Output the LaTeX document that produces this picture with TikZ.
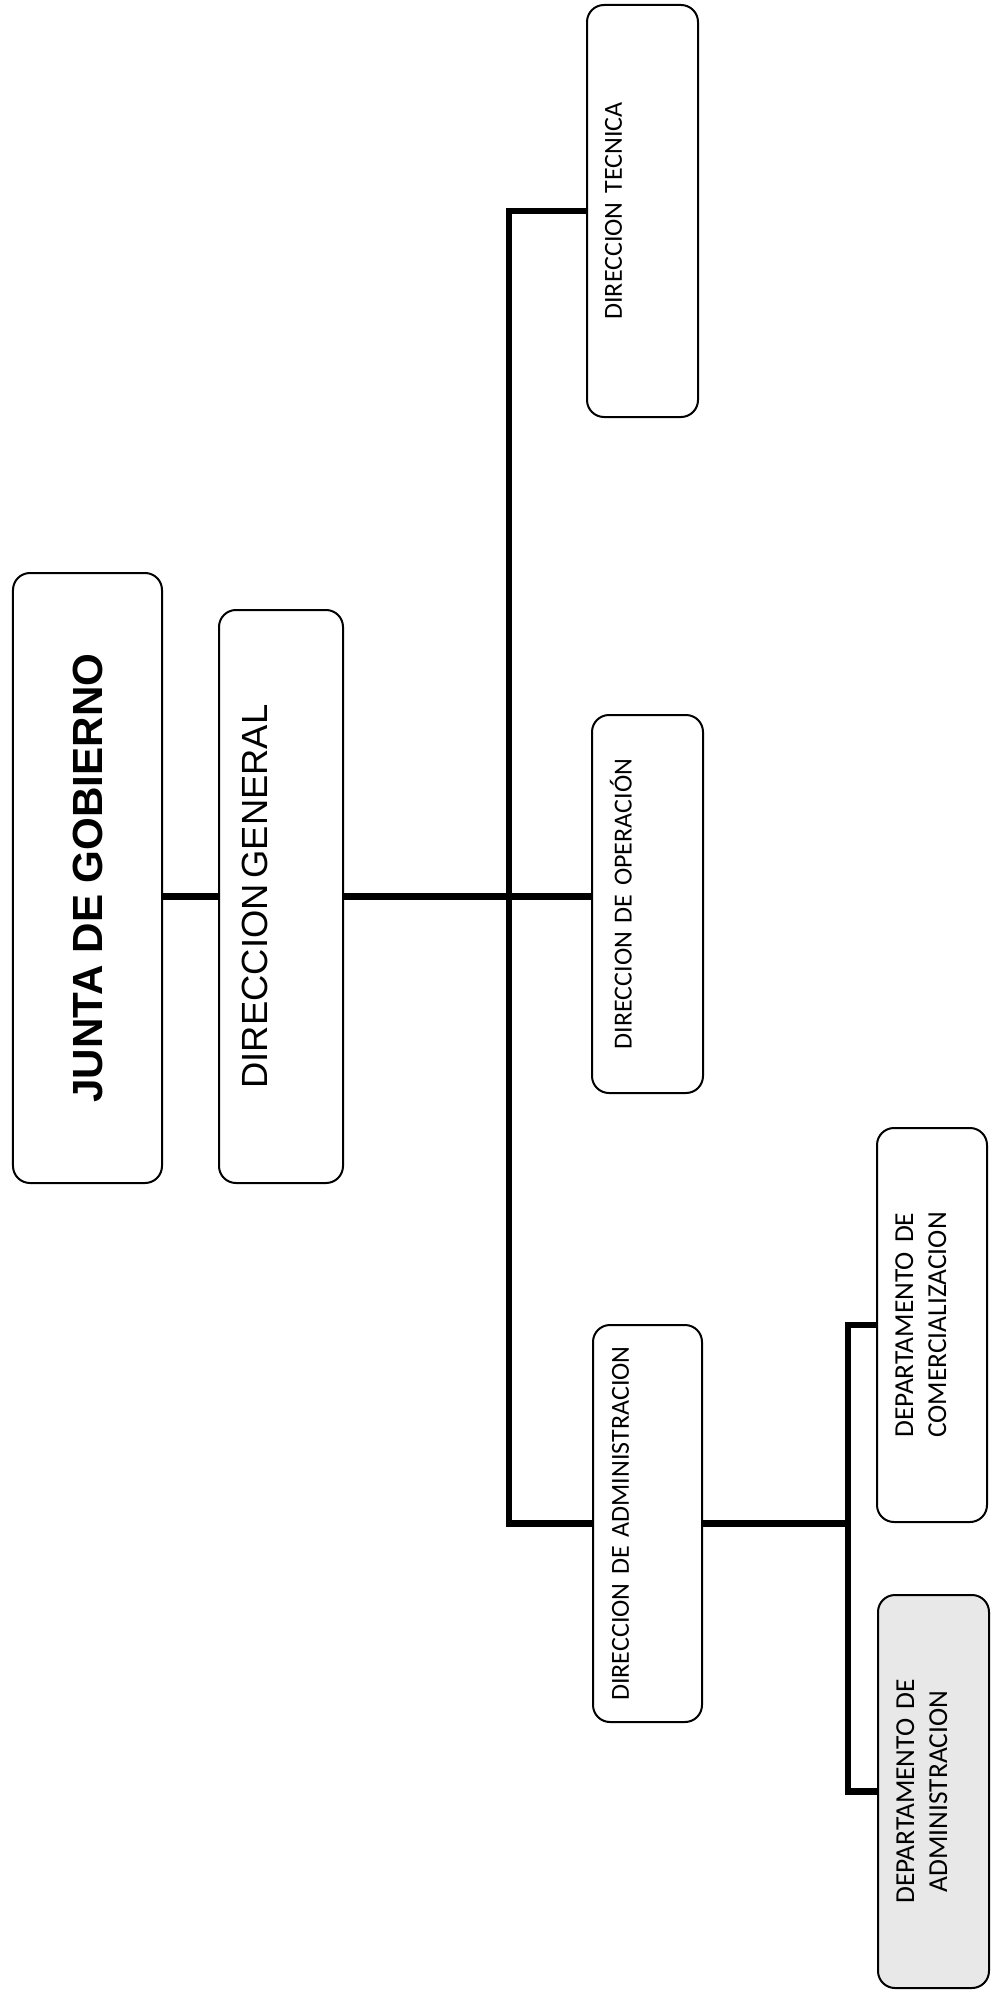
\documentclass[tikz,border=0pt]{standalone}
\usepackage{fontspec}
\setmainfont{Carlito}
\newfontfamily\arialf{Liberation Sans}

\begin{document}
\begin{tikzpicture}[x=0.2mm,y=-0.2mm,
    box/.style={draw,line width=0.4mm,rounded corners=3.4mm,inner xsep=0pt,inner ysep=0pt,align=left},
    smalltxt/.style={font=\fontsize{14.8}{17.8}\selectfont},
    depttxt/.style={font=\fontsize{15.6}{18.8}\selectfont},
    link/.style={line width=1.3mm}]
  \useasboundingbox (0,0) rectangle (997,1996);
  \node[box,minimum width=29.8mm,minimum height=122mm] (jg) at (87.5,878)
    {\rotatebox{90}{\arialf\fontsize{24}{28}\selectfont\bfseries JUNTA DE GOBIERNO}};
  \node[box,minimum width=24.8mm,minimum height=114.6mm,text width=15.6mm] (dg) at (281,896.5)
    {\rotatebox{90}{\arialf\fontsize{20.7}{24}\selectfont DIRECCION GENERAL}};
  \node[box,smalltxt,minimum width=22.2mm,minimum height=82.4mm,text width=15mm] (tec) at (642.5,211)
    {\rotatebox{90}{DIRECCION TECNICA}};
  \node[box,smalltxt,minimum width=22.2mm,minimum height=75.6mm,text width=15mm] (ope) at (647.5,904)
    {\rotatebox{90}{DIRECCION DE OPERACIÓN}};
  \node[box,smalltxt,minimum width=21.8mm,minimum height=79.4mm,text width=14.2mm] (adm) at (647.5,1523.5)
    {\rotatebox{90}{DIRECCION DE ADMINISTRACION}};
  \node[box,depttxt,minimum width=22mm,minimum height=78.8mm,text width=16.8mm] (com) at (932,1325)
    {\rotatebox{90}{\begin{tabular}{@{}c@{}}DEPARTAMENTO DE\\COMERCIALIZACION\end{tabular}}};
  \node[box,depttxt,fill=black!9,minimum width=22.2mm,minimum height=78.6mm,text width=17mm] (dad) at (933.5,1791.5)
    {\rotatebox{90}{\begin{tabular}{@{}c@{}}DEPARTAMENTO DE\\ADMINISTRACION\end{tabular}}};

  \coordinate (spine) at (509,0);
  \coordinate (branch) at (848,0);
  \draw[link] (jg.east |- dg.west) -- (dg.west);
  \draw[link] (dg.east) -- (dg.east -| ope.west);
  \draw[link] (tec.west) -- (tec.west -| spine) -- (adm.west -| spine) -- (adm.west);
  \draw[link] (adm.east) -- (adm.east -| branch);
  \draw[link] (com.west) -- (com.west -| branch) -- (dad.west -| branch) -- (dad.west);
\end{tikzpicture}
\end{document}
